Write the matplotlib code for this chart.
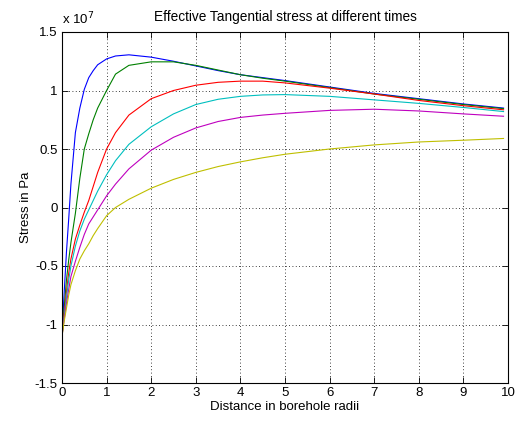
#!/usr/bin/env python3

import matplotlib
matplotlib.use("Agg")
import matplotlib.pyplot as plt

# Abstand in Bohrlochradien
dist = [0.0, 0.05, 0.1, 0.15, 0.2, 0.3, 0.4, 0.5, 0.6, 0.7, 0.8, 1.0, 1.2, 1.5,
        2.0, 2.5, 3.0, 3.5, 4.0, 4.5, 5.0, 6.0, 7.0, 8.0, 9.0, 9.9]

# Tangentialspannung in 1e7 Pa, eine Liste je Zeitpunkt
stress_t1 = [-1.08, -0.72, -0.38, -0.1, 0.2, 0.64, 0.85, 1.01, 1.11, 1.17, 1.22, 1.27, 1.295, 1.305,
             1.285, 1.25, 1.21, 1.17, 1.135, 1.11, 1.085, 1.03, 0.975, 0.93, 0.885, 0.85]
stress_t2 = [-1.08, -0.85, -0.62, -0.45, -0.3, -0.05, 0.25, 0.5, 0.63, 0.75, 0.85, 1.0, 1.14, 1.215,
             1.245, 1.245, 1.215, 1.175, 1.135, 1.105, 1.08, 1.025, 0.97, 0.925, 0.88, 0.845]
stress_t3 = [-1.1, -0.9, -0.72, -0.56, -0.44, -0.27, -0.15, -0.04, 0.06, 0.18, 0.3, 0.5, 0.64, 0.79,
             0.93, 1.0, 1.045, 1.07, 1.08, 1.08, 1.065, 1.02, 0.97, 0.915, 0.87, 0.835]
stress_t4 = [-1.1, -0.93, -0.77, -0.62, -0.5, -0.33, -0.2, -0.1, -0.02, 0.06, 0.14, 0.28, 0.4, 0.54,
             0.69, 0.8, 0.88, 0.925, 0.95, 0.962, 0.965, 0.95, 0.92, 0.89, 0.855, 0.82]
stress_t5 = [-1.1, -0.95, -0.82, -0.7, -0.59, -0.46, -0.34, -0.23, -0.14, -0.08, -0.02, 0.1, 0.2, 0.33,
             0.49, 0.6, 0.68, 0.735, 0.77, 0.79, 0.805, 0.83, 0.84, 0.825, 0.8, 0.78]
stress_t6 = [-1.1, -0.97, -0.86, -0.75, -0.66, -0.54, -0.44, -0.37, -0.31, -0.24, -0.18, -0.07, 0.0, 0.07,
             0.165, 0.24, 0.3, 0.35, 0.39, 0.425, 0.455, 0.5, 0.535, 0.56, 0.575, 0.59]

series = [stress_t1, stress_t2, stress_t3, stress_t4, stress_t5, stress_t6]

# klassische MATLAB-Farbfolge
colors = [(0, 0, 1), (0, 0.5, 0), (1, 0, 0), (0, 0.75, 0.75), (0.75, 0, 0.75), (0.75, 0.75, 0)]

x_ticks = list(range(0, 11))
y_ticks = [-1.5, -1.0, -0.5, 0.0, 0.5, 1.0, 1.5]

plt.rcParams['font.family'] = ['Liberation Sans', 'DejaVu Sans']
plt.rcParams['font.size'] = 9.5

fig = plt.figure(figsize=(5.16, 4.21), dpi=100)
ax = fig.add_axes([62 / 516, 1 - 383 / 421, 446 / 516, 351 / 421])

for ys, col in zip(series, colors):
    ax.plot(dist, ys, color=col, linewidth=0.8)

ax.set_xlim(0, 10)
ax.set_ylim(-1.5, 1.5)
ax.set_xticks(x_ticks)
ax.set_yticks(y_ticks)
ax.set_xticklabels([f"{v:g}" for v in x_ticks])
ax.set_yticklabels([f"{v:g}" for v in y_ticks])

ax.tick_params(direction='in', length=4, width=0.6, top=True, right=True,
               colors='black', labelsize=9.5, pad=3)
for sp in ax.spines.values():
    sp.set_linewidth(0.8)
    sp.set_color('black')

ax.grid(True, linestyle=(0, (1, 3)), color='black', linewidth=0.6)

ax.set_title("Effective Tangential stress at different times", fontsize=9.8, pad=8)
ax.set_xlabel("Distance in borehole radii", fontsize=9.5, labelpad=1)
ax.set_ylabel("Stress in Pa", fontsize=9.5, labelpad=2)
ax.text(0.0, 1.012, r"x 10$^{7}$", transform=ax.transAxes, fontsize=9.5,
        ha='left', va='bottom')

fig.savefig("out.png", dpi=100)
